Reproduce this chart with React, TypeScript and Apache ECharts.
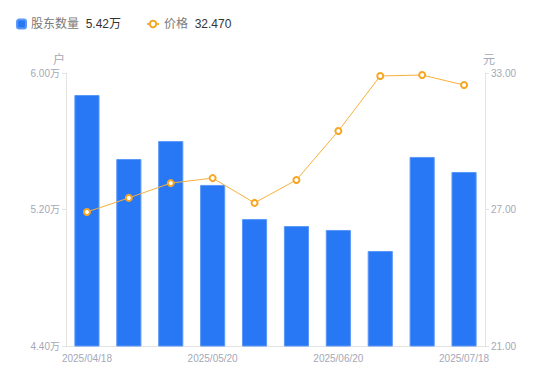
import React, { useEffect, useRef } from "react";
import * as echarts from "echarts";

const categories = [
  "2025/04/18", "2025/04/30", "2025/05/09", "2025/05/20", "2025/05/30",
  "2025/06/10", "2025/06/20", "2025/06/30", "2025/07/10", "2025/07/18",
];
const holders = [5.871, 5.496, 5.601, 5.344, 5.144, 5.103, 5.08, 4.957, 5.508, 5.42];
const prices = [26.89, 27.51, 28.16, 28.38, 27.29, 28.3, 30.45, 32.87, 32.91, 32.47];
const leftTicks = [4.4, 5.2, 6.0];
const rightTicks = [21, 27, 33];

const FONT = '"Liberation Sans", Arial, "Noto Sans CJK SC", sans-serif';

export default function App() {
  const ref = useRef<HTMLDivElement>(null);
  useEffect(() => {
    if (!ref.current) return;
    const chart = echarts.init(ref.current, undefined, { renderer: "svg" });
    const labelColor = "#a5a8b6";
    const lineColor = "#e3e3e3";
    const legendRich = {
      a: { color: "#7a7a7a", fontSize: 12, fontFamily: FONT },
      b: { color: "#333", fontSize: 12, fontFamily: FONT },
    };
    chart.setOption({
      animation: false,
      textStyle: { fontFamily: FONT },
      legend: [
        {
          left: 11,
          top: 13,
          itemWidth: 9,
          itemHeight: 9,
          itemGap: 6,
          data: [{ name: "股东数量", icon: "roundRect" }],
          formatter: () => "{a|股东数量}  {b|" + holders[holders.length - 1].toFixed(2) + "万}",
          textStyle: { rich: legendRich },
        },
        {
          left: 141,
          top: 13,
          itemWidth: 12,
          itemHeight: 8,
          data: [{ name: "价格" }],
          formatter: () => "{a|价格}  {b|" + prices[prices.length - 1].toFixed(3) + "}",
          textStyle: { rich: legendRich },
        },
      ],
      grid: { left: 66, right: 65, top: 73, bottom: 35 },
      xAxis: {
        type: "category",
        data: categories,
        axisLine: { lineStyle: { color: lineColor } },
        axisTick: { show: false },
        axisLabel: { color: labelColor, fontSize: 10, interval: 2, margin: 7, fontFamily: FONT },
      },
      yAxis: [
        {
          type: "value",
          min: 4.4,
          max: 6.0,
          name: "户",
          nameGap: 7,
          nameTextStyle: { color: labelColor, fontSize: 12, padding: [0, 14, 0, 0], fontFamily: FONT },
          axisLine: { show: true, lineStyle: { color: lineColor } },
          axisTick: { show: true, length: 4, lineStyle: { color: lineColor }, customValues: leftTicks },
          splitLine: { show: false },
          axisLabel: {
            color: labelColor,
            fontSize: 10,
            margin: 6,
            fontFamily: FONT,
            customValues: leftTicks,
            formatter: (v: number) => v.toFixed(2) + "万",
          },
        },
        {
          type: "value",
          min: 21,
          max: 33,
          name: "元",
          nameGap: 7,
          nameTextStyle: { color: labelColor, fontSize: 12, padding: [0, 0, 0, 8], fontFamily: FONT },
          axisLine: { show: true, lineStyle: { color: lineColor } },
          axisTick: { show: true, length: 4, lineStyle: { color: lineColor }, customValues: rightTicks },
          splitLine: { show: false },
          axisLabel: {
            color: labelColor,
            fontSize: 10,
            margin: 6,
            fontFamily: FONT,
            customValues: rightTicks,
            formatter: (v: number) => v.toFixed(2),
          },
        },
      ],
      series: [
        {
          name: "股东数量",
          type: "bar",
          yAxisIndex: 0,
          data: holders,
          barWidth: "60%",
          itemStyle: { color: "#2878f5", borderColor: "#5b98f7", borderWidth: 1 },
        },
        {
          name: "价格",
          type: "line",
          yAxisIndex: 1,
          data: prices,
          symbol: "emptyCircle",
          symbolSize: 6,
          z: 5,
          lineStyle: { color: "#f6b03c", width: 1 },
          itemStyle: { color: "#f6a623", borderWidth: 2 },
        },
      ],
    });
    return () => chart.dispose();
  }, []);
  return (
    <div
      ref={ref}
      style={{ position: "absolute", left: 0, top: 0, width: 550, height: 381 }}
    />
  );
}
